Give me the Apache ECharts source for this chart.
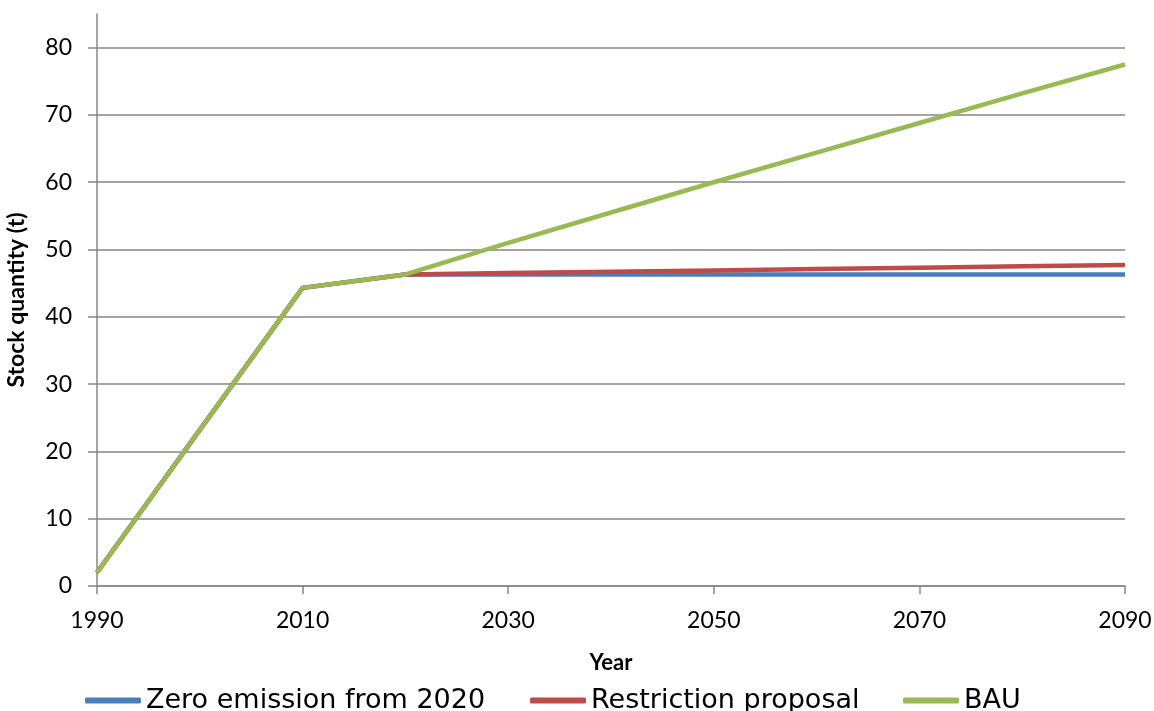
<!DOCTYPE html>
<html>
<head>
<meta charset="utf-8">
<script src="https://cdn.jsdelivr.net/npm/echarts@6/dist/echarts.min.js"></script>
<style>
  html, body { margin: 0; padding: 0; background: #fff; }
  #chart { width: 1154px; height: 711px; }
</style>
</head>
<body>
<div id="chart"></div>
<script>
// Stock quantity (t) under three scenarios, 1990-2090
const years = [1990, 2000, 2010, 2020, 2030, 2040, 2050, 2060, 2070, 2080, 2090];
const zeroEmission = [2.0, 23.2, 44.3, 46.3, 46.3, 46.3, 46.3, 46.3, 46.3, 46.3, 46.3];
const restriction = [2.0, 23.2, 44.3, 46.3, 46.5, 46.7, 46.9, 47.1, 47.3, 47.5, 47.7];
const bau = [2.0, 23.2, 44.3, 46.3, 51.0, 55.5, 60.0, 64.4, 68.8, 73.2, 77.5];
const seriesNames = ['Zero emission from 2020', 'Restriction proposal', 'BAU'];
const yTicks = [0, 10, 20, 30, 40, 50, 60, 70, 80];
const xTicks = [1990, 2010, 2030, 2050, 2070, 2090];

const colors = ['#4a7ebb', '#be4b48', '#98b954'];
const axisGrey = '#868686';
const tickFont = 'Lato, "Open Sans", sans-serif';
const legendFont = '"DejaVu Sans", Verdana, sans-serif';

const pairs = arr => years.map((y, i) => [y, arr[i]]);
const values = [zeroEmission, restriction, bau];

const chart = echarts.init(document.getElementById('chart'));

const legendLefts = [85, 530, 903];
const legends = seriesNames.map((name, i) => ({
  data: [name],
  left: legendLefts[i],
  top: 687,
  padding: 0,
  icon: 'roundRect',
  itemWidth: 56,
  itemHeight: 6,
  itemGap: 0,
  selectedMode: false,
  textStyle: { fontFamily: legendFont, fontSize: 27, color: '#000', lineHeight: 27 }
}));

chart.setOption({
  animation: false,
  backgroundColor: '#fff',
  grid: { left: 97, right: 29, top: 14, bottom: 125, outerBoundsMode: 'none', containLabel: false },
  legend: legends,
  xAxis: {
    type: 'value',
    min: 1990,
    max: 2090,
    interval: 20,
    name: 'Year',
    nameLocation: 'middle',
    nameGap: 66,
    nameTextStyle: { fontFamily: tickFont, fontWeight: 'bold', fontSize: 22, color: '#000' },
    axisLine: { show: true, lineStyle: { color: axisGrey, width: 1.5 } },
    axisTick: { show: true, inside: false, length: 8, lineStyle: { color: axisGrey, width: 1.5 }, customValues: xTicks },
    axisLabel: { fontFamily: tickFont, fontSize: 23, color: '#000', margin: 23, customValues: xTicks, formatter: v => String(v) },
    splitLine: { show: false }
  },
  yAxis: {
    type: 'value',
    min: 0,
    max: 85,
    interval: 10,
    name: 'Stock quantity (t)',
    nameLocation: 'middle',
    nameGap: 69,
    nameTextStyle: { fontFamily: tickFont, fontWeight: 'bold', fontSize: 23, color: '#000' },
    axisLine: { show: true, lineStyle: { color: axisGrey, width: 1.5 } },
    axisTick: { show: true, inside: false, length: 9, lineStyle: { color: axisGrey, width: 1.5 }, customValues: yTicks },
    axisLabel: { fontFamily: tickFont, fontSize: 23, color: '#000', margin: 25, customValues: yTicks },
    splitLine: {
      show: true,
      lineStyle: {
        color: [axisGrey, axisGrey, axisGrey, axisGrey, axisGrey, axisGrey, axisGrey, axisGrey, axisGrey, 'rgba(0,0,0,0)'],
        width: 1.5
      }
    }
  },
  series: seriesNames.map((name, i) => ({
    name,
    type: 'line',
    data: pairs(values[i]),
    showSymbol: false,
    symbol: 'none',
    z: 2 + i,
    lineStyle: { color: colors[i], width: 4.5, join: 'round' },
    itemStyle: { color: colors[i] }
  }))
});
</script>
</body>
</html>
